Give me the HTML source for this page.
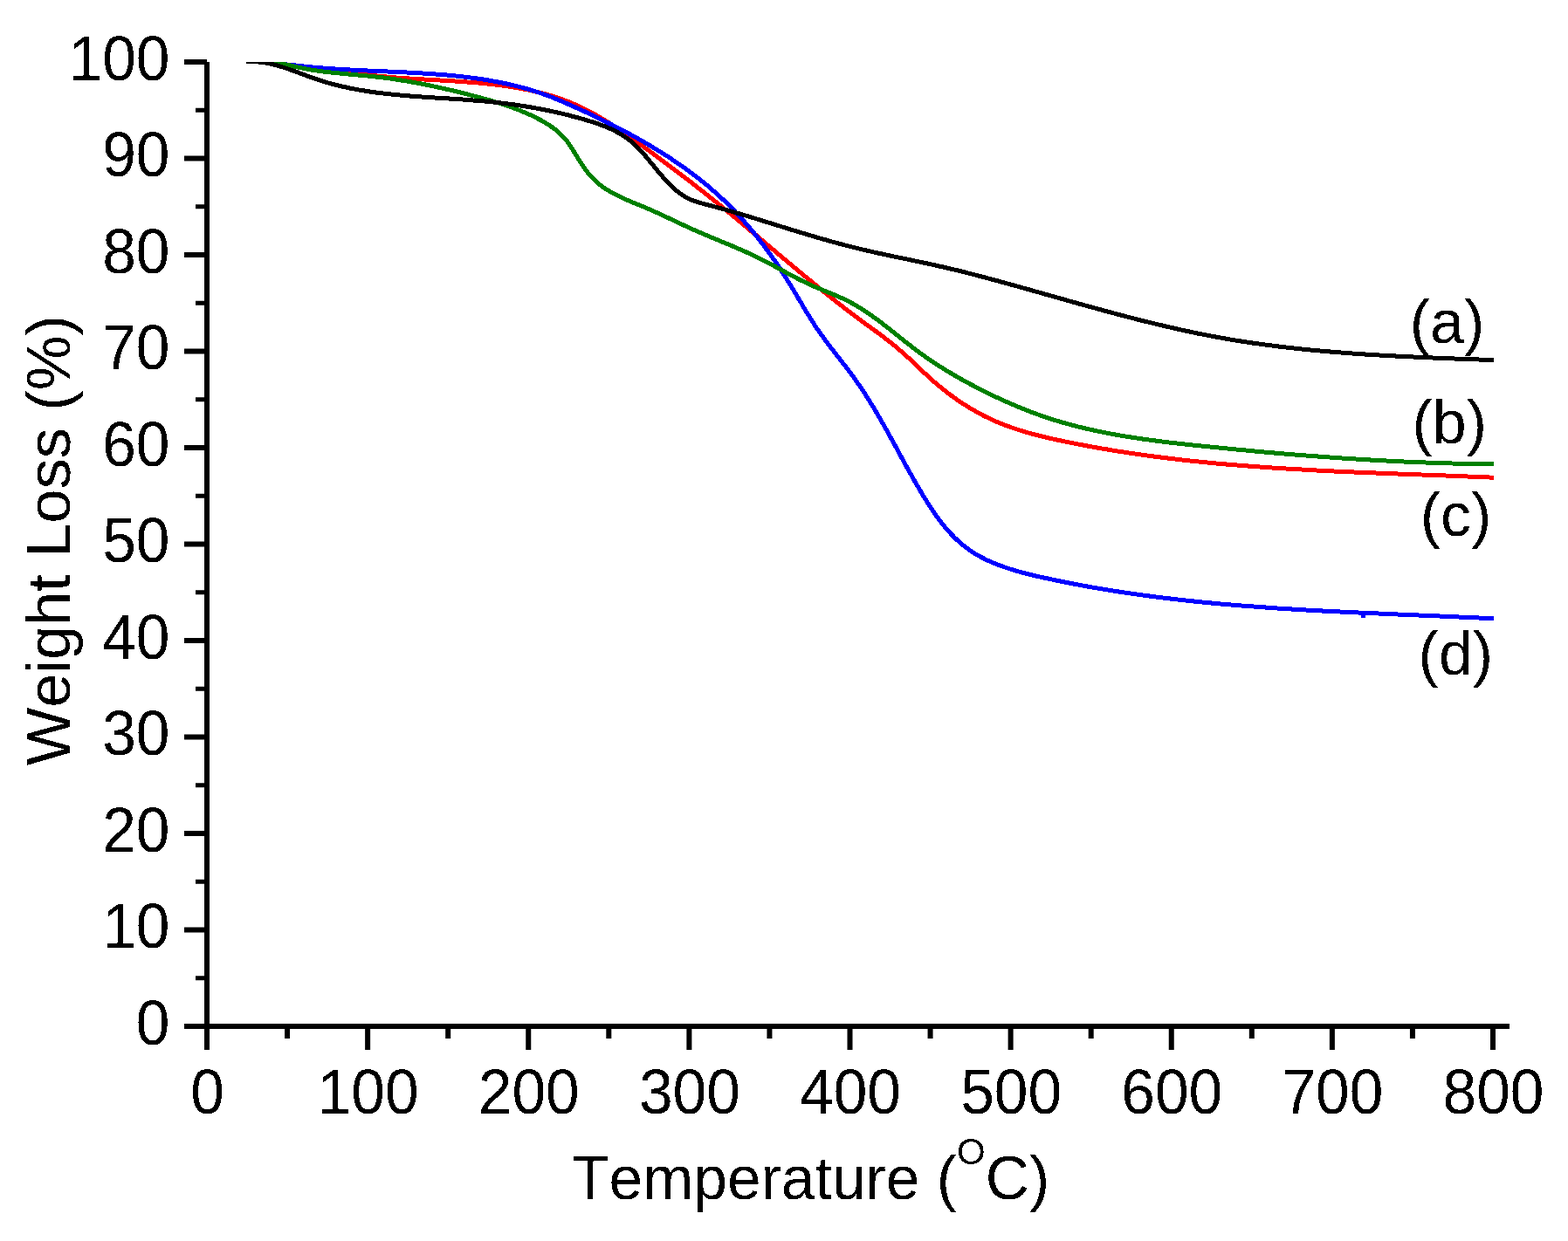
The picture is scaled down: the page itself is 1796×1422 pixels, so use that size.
<!DOCTYPE html>
<html><head><meta charset="utf-8"><title>TGA</title>
<style>html,body{margin:0;padding:0;background:#fff;}svg{display:block;}
text{font-family:"Liberation Sans",Arial,sans-serif;fill:#000;font-kerning:none;}</style></head>
<body><svg width="1796" height="1422" viewBox="0 0 1796 1422">
<rect width="1796" height="1422" fill="#fff"/>
<defs><clipPath id="pc"><rect x="237" y="71" width="1492" height="1105"/></clipPath>
<filter id="bin" x="0" y="0" width="1796" height="1422" filterUnits="userSpaceOnUse" color-interpolation-filters="sRGB"><feComponentTransfer><feFuncA type="discrete" tableValues="0 1"/></feComponentTransfer></filter></defs>

<g clip-path="url(#pc)" fill="none" stroke-width="5" stroke-linejoin="round" stroke-linecap="butt" shape-rendering="crispEdges">
<path stroke="#ff0000" d="M282.1,70.7 284.5,70.7 287.0,70.7 289.4,70.8 291.9,70.8 294.4,70.9 296.8,71.0 299.3,71.2 301.8,71.3 304.3,71.5 306.8,71.7 309.3,71.9 311.8,72.1 314.3,72.3 316.8,72.6 319.3,72.9 321.8,73.1 324.3,73.4 326.8,73.7 329.3,74.0 331.8,74.3 334.3,74.7 336.8,75.0 339.3,75.3 341.8,75.7 344.3,76.0 346.8,76.4 349.3,76.7 351.8,77.1 354.3,77.4 356.8,77.8 359.3,78.1 361.8,78.5 364.3,78.8 366.7,79.2 369.2,79.5 371.7,79.8 374.2,80.2 376.6,80.5 379.1,80.8 381.6,81.2 384.0,81.5 386.5,81.8 388.9,82.1 391.4,82.4 393.9,82.7 396.3,83.0 398.8,83.3 401.2,83.6 403.7,83.9 406.1,84.2 408.6,84.5 411.0,84.8 413.5,85.1 416.0,85.4 418.4,85.6 420.9,85.9 423.3,86.2 425.8,86.4 428.3,86.7 430.7,86.9 433.2,87.1 435.7,87.4 438.1,87.6 440.6,87.8 443.1,88.0 445.6,88.3 448.0,88.5 450.5,88.7 453.0,88.9 455.5,89.1 458.0,89.2 460.5,89.4 463.0,89.6 465.5,89.8 468.0,89.9 470.6,90.1 473.1,90.2 475.6,90.4 478.1,90.5 480.6,90.7 483.2,90.8 485.7,91.0 488.2,91.1 490.8,91.3 493.3,91.4 495.8,91.5 498.4,91.7 500.9,91.8 503.5,92.0 506.0,92.1 508.5,92.3 511.1,92.4 513.6,92.6 516.2,92.7 518.7,92.9 521.2,93.0 523.8,93.2 526.3,93.4 528.9,93.5 531.4,93.7 533.9,93.9 536.5,94.1 539.0,94.3 541.5,94.5 544.1,94.7 546.6,94.9 549.1,95.1 551.7,95.4 554.2,95.6 556.7,95.9 559.2,96.1 561.7,96.4 564.2,96.7 566.8,97.0 569.3,97.3 571.8,97.6 574.3,97.9 576.8,98.2 579.3,98.6 581.7,98.9 584.2,99.3 586.7,99.7 589.2,100.1 591.6,100.5 594.1,101.0 596.6,101.4 599.0,101.9 601.5,102.3 603.9,102.8 606.3,103.3 608.8,103.9 611.2,104.4 613.6,105.0 616.0,105.6 618.4,106.2 620.8,106.8 623.2,107.4 625.6,108.1 628.0,108.7 630.3,109.4 632.7,110.2 635.1,110.9 637.4,111.7 639.7,112.4 642.1,113.2 644.4,114.1 646.7,114.9 649.0,115.8 651.3,116.7 653.6,117.6 655.9,118.6 658.1,119.5 660.4,120.5 662.6,121.5 664.9,122.6 667.1,123.7 669.3,124.8 671.5,125.9 673.7,127.0 675.9,128.2 678.1,129.3 680.3,130.5 682.5,131.8 684.6,133.0 686.8,134.3 688.9,135.5 691.1,136.8 693.2,138.1 695.4,139.5 697.5,140.8 699.6,142.1 701.7,143.5 703.8,144.9 705.9,146.3 708.0,147.7 710.1,149.1 712.2,150.5 714.2,151.9 716.3,153.4 718.4,154.8 720.5,156.2 722.5,157.7 724.6,159.2 726.6,160.6 728.7,162.1 730.7,163.6 732.8,165.1 734.8,166.5 736.9,168.0 738.9,169.5 740.9,171.0 743.0,172.5 745.0,174.0 747.0,175.4 749.0,176.9 751.1,178.4 753.1,179.9 755.1,181.4 757.1,182.9 759.1,184.4 761.2,185.9 763.2,187.4 765.2,188.9 767.2,190.4 769.2,191.9 771.2,193.4 773.2,194.9 775.2,196.4 777.2,197.9 779.2,199.4 781.1,200.9 783.1,202.4 785.1,204.0 787.1,205.5 789.1,207.0 791.1,208.5 793.0,210.1 795.0,211.6 797.0,213.1 798.9,214.7 800.9,216.2 802.9,217.7 804.8,219.3 806.8,220.8 808.7,222.4 810.7,223.9 812.6,225.5 814.6,227.0 816.5,228.6 818.5,230.2 820.4,231.7 822.4,233.3 824.3,234.9 826.2,236.5 828.2,238.0 830.1,239.6 832.0,241.2 834.0,242.8 835.9,244.4 837.8,246.0 839.8,247.5 841.7,249.1 843.6,250.7 845.5,252.3 847.4,253.9 849.4,255.5 851.3,257.1 853.2,258.7 855.1,260.3 857.0,261.9 858.9,263.5 860.8,265.2 862.8,266.8 864.7,268.4 866.6,270.0 868.5,271.6 870.4,273.2 872.3,274.8 874.2,276.4 876.1,278.0 878.0,279.7 880.0,281.3 881.9,282.9 883.8,284.5 885.7,286.1 887.6,287.7 889.5,289.3 891.4,291.0 893.3,292.6 895.2,294.2 897.1,295.8 899.1,297.4 901.0,299.0 902.9,300.6 904.8,302.2 906.7,303.8 908.6,305.4 910.6,307.0 912.5,308.6 914.4,310.2 916.3,311.9 918.2,313.5 920.2,315.0 922.1,316.6 924.0,318.2 925.9,319.8 927.9,321.4 929.8,323.0 931.7,324.6 933.7,326.2 935.6,327.8 937.5,329.3 939.5,330.9 941.4,332.5 943.4,334.1 945.3,335.6 947.2,337.2 949.2,338.8 951.1,340.3 953.1,341.9 955.1,343.5 957.0,345.0 959.0,346.5 960.9,348.1 962.9,349.6 964.9,351.2 966.9,352.7 968.8,354.2 970.8,355.8 972.8,357.3 974.8,358.8 976.8,360.3 978.8,361.8 980.8,363.3 982.8,364.8 984.8,366.3 986.8,367.8 988.9,369.2 990.9,370.7 992.9,372.2 994.9,373.6 997.0,375.1 999.0,376.6 1001.0,378.1 1003.0,379.5 1005.0,381.0 1007.1,382.5 1009.1,384.0 1011.1,385.5 1013.0,387.0 1015.0,388.6 1017.0,390.1 1018.9,391.6 1020.9,393.2 1022.8,394.8 1024.8,396.3 1026.7,397.9 1028.6,399.5 1030.5,401.1 1032.4,402.8 1034.3,404.4 1036.1,406.1 1038.0,407.7 1039.8,409.4 1041.7,411.1 1043.5,412.8 1045.3,414.5 1047.1,416.3 1048.9,418.0 1050.7,419.7 1052.6,421.4 1054.4,423.2 1056.2,424.9 1058.0,426.6 1059.8,428.3 1061.7,430.0 1063.5,431.7 1065.4,433.4 1067.2,435.1 1069.1,436.8 1071.0,438.4 1072.9,440.0 1074.8,441.7 1076.8,443.3 1078.7,444.9 1080.7,446.4 1082.7,448.0 1084.6,449.5 1086.6,451.0 1088.6,452.5 1090.7,454.0 1092.7,455.5 1094.7,456.9 1096.8,458.4 1098.9,459.8 1101.0,461.2 1103.0,462.6 1105.2,463.9 1107.3,465.3 1109.4,466.6 1111.5,467.9 1113.7,469.2 1115.9,470.4 1118.0,471.6 1120.2,472.9 1122.4,474.0 1124.6,475.2 1126.8,476.4 1129.1,477.5 1131.3,478.6 1133.5,479.7 1135.8,480.7 1138.1,481.8 1140.4,482.8 1142.7,483.8 1145.0,484.7 1147.3,485.6 1149.6,486.6 1151.9,487.5 1154.2,488.3 1156.6,489.2 1158.9,490.0 1161.3,490.8 1163.7,491.6 1166.1,492.4 1168.4,493.1 1170.8,493.9 1173.2,494.6 1175.6,495.3 1178.0,496.0 1180.4,496.7 1182.9,497.3 1185.3,498.0 1187.7,498.6 1190.2,499.2 1192.6,499.8 1195.0,500.4 1197.5,501.0 1199.9,501.6 1202.4,502.2 1204.8,502.7 1207.3,503.3 1209.7,503.8 1212.2,504.3 1214.7,504.9 1217.1,505.4 1219.6,505.9 1222.0,506.4 1224.5,506.9 1227.0,507.4 1229.4,507.9 1231.9,508.4 1234.4,508.9 1236.8,509.4 1239.3,509.8 1241.8,510.3 1244.2,510.8 1246.7,511.2 1249.2,511.7 1251.6,512.1 1254.1,512.6 1256.6,513.0 1259.1,513.4 1261.5,513.9 1264.0,514.3 1266.5,514.7 1269.0,515.1 1271.4,515.6 1273.9,516.0 1276.4,516.4 1278.9,516.8 1281.3,517.2 1283.8,517.6 1286.3,517.9 1288.8,518.3 1291.2,518.7 1293.7,519.1 1296.2,519.4 1298.7,519.8 1301.1,520.2 1303.6,520.5 1306.1,520.9 1308.6,521.2 1311.1,521.6 1313.6,521.9 1316.0,522.3 1318.5,522.6 1321.0,522.9 1323.5,523.3 1326.0,523.6 1328.5,523.9 1330.9,524.2 1333.4,524.5 1335.9,524.8 1338.4,525.1 1340.9,525.4 1343.4,525.7 1345.9,526.0 1348.3,526.3 1350.8,526.6 1353.3,526.9 1355.8,527.2 1358.3,527.4 1360.8,527.7 1363.3,528.0 1365.8,528.3 1368.2,528.5 1370.7,528.8 1373.2,529.0 1375.7,529.3 1378.2,529.5 1380.7,529.8 1383.2,530.0 1385.7,530.3 1388.2,530.5 1390.7,530.7 1393.2,531.0 1395.7,531.2 1398.2,531.4 1400.6,531.6 1403.1,531.9 1405.6,532.1 1408.1,532.3 1410.6,532.5 1413.1,532.7 1415.6,532.9 1418.1,533.1 1420.6,533.3 1423.1,533.5 1425.6,533.7 1428.1,533.9 1430.6,534.1 1433.1,534.3 1435.6,534.5 1438.1,534.7 1440.6,534.9 1443.1,535.0 1445.6,535.2 1448.1,535.4 1450.6,535.6 1453.1,535.7 1455.6,535.9 1458.1,536.1 1460.6,536.2 1463.1,536.4 1465.6,536.5 1468.1,536.7 1470.6,536.9 1473.1,537.0 1475.6,537.2 1478.1,537.3 1480.6,537.5 1483.1,537.6 1485.6,537.8 1488.1,537.9 1490.6,538.0 1493.1,538.2 1495.6,538.3 1498.1,538.5 1500.6,538.6 1503.1,538.7 1505.6,538.9 1508.1,539.0 1510.6,539.1 1513.1,539.2 1515.6,539.4 1518.1,539.5 1520.6,539.6 1523.1,539.7 1525.6,539.8 1528.2,540.0 1530.7,540.1 1533.2,540.2 1535.7,540.3 1538.2,540.4 1540.7,540.5 1543.2,540.6 1545.7,540.8 1548.2,540.9 1550.7,541.0 1553.2,541.1 1555.7,541.2 1558.2,541.3 1560.7,541.4 1563.2,541.5 1565.7,541.6 1568.2,541.7 1570.7,541.8 1573.2,541.9 1575.7,542.0 1578.3,542.1 1580.8,542.2 1583.3,542.3 1585.8,542.4 1588.3,542.5 1590.8,542.6 1593.3,542.7 1595.8,542.8 1598.3,542.9 1600.8,543.0 1603.3,543.1 1605.8,543.2 1608.3,543.3 1610.8,543.3 1613.3,543.4 1615.8,543.5 1618.3,543.6 1620.8,543.7 1623.4,543.8 1625.9,543.9 1628.4,544.0 1630.9,544.1 1633.4,544.2 1635.9,544.3 1638.4,544.4 1640.9,544.5 1643.4,544.6 1645.9,544.6 1648.4,544.7 1650.9,544.8 1653.4,544.9 1655.9,545.0 1658.4,545.1 1660.9,545.2 1663.4,545.3 1665.9,545.4 1668.4,545.5 1670.9,545.6 1673.4,545.7 1675.9,545.8 1678.4,545.9 1681.0,546.0 1683.5,546.1 1686.0,546.2 1688.5,546.3 1691.0,546.4 1693.5,546.5 1696.0,546.6 1698.5,546.7 1701.0,546.8 1703.5,546.9 1706.0,547.0 1708.5,547.1 1711.0,547.2"/>
<path stroke="#0000ff" d="M282.0,70.4 284.5,70.5 287.0,70.5 289.5,70.7 292.0,70.8 294.5,70.9 296.9,71.1 299.4,71.3 301.9,71.4 304.4,71.6 306.9,71.8 309.4,72.1 311.8,72.3 314.3,72.5 316.8,72.8 319.3,73.0 321.8,73.3 324.2,73.5 326.7,73.8 329.2,74.1 331.7,74.3 334.2,74.6 336.7,74.8 339.1,75.1 341.6,75.4 344.1,75.6 346.6,75.9 349.1,76.1 351.6,76.4 354.0,76.6 356.5,76.9 359.0,77.1 361.5,77.3 364.0,77.5 366.5,77.7 368.9,77.9 371.4,78.1 373.9,78.3 376.4,78.5 378.9,78.6 381.4,78.8 383.9,79.0 386.3,79.1 388.8,79.3 391.3,79.4 393.8,79.6 396.3,79.7 398.8,79.9 401.3,80.0 403.8,80.1 406.3,80.3 408.8,80.4 411.3,80.5 413.7,80.6 416.2,80.8 418.7,80.9 421.2,81.0 423.7,81.1 426.2,81.2 428.7,81.3 431.2,81.4 433.7,81.6 436.2,81.7 438.8,81.8 441.3,81.9 443.8,82.0 446.3,82.1 448.8,82.2 451.3,82.3 453.8,82.4 456.3,82.6 458.8,82.7 461.3,82.8 463.9,82.9 466.4,83.0 468.9,83.2 471.4,83.3 473.9,83.4 476.4,83.6 478.9,83.7 481.5,83.9 484.0,84.0 486.5,84.2 489.0,84.3 491.5,84.5 494.0,84.7 496.6,84.8 499.1,85.0 501.6,85.2 504.1,85.4 506.6,85.6 509.1,85.8 511.6,86.0 514.1,86.3 516.6,86.5 519.1,86.7 521.6,87.0 524.1,87.2 526.6,87.5 529.1,87.8 531.6,88.1 534.1,88.4 536.6,88.7 539.1,89.0 541.6,89.3 544.1,89.6 546.6,90.0 549.0,90.4 551.5,90.7 554.0,91.1 556.5,91.5 558.9,91.9 561.4,92.3 563.9,92.8 566.3,93.2 568.8,93.7 571.2,94.1 573.7,94.6 576.1,95.1 578.6,95.6 581.0,96.2 583.4,96.7 585.9,97.3 588.3,97.8 590.7,98.4 593.1,99.0 595.5,99.6 598.0,100.3 600.4,100.9 602.8,101.6 605.1,102.3 607.5,103.0 609.9,103.7 612.3,104.5 614.6,105.2 617.0,106.0 619.4,106.8 621.7,107.6 624.0,108.4 626.4,109.3 628.7,110.1 631.0,111.0 633.3,111.9 635.6,112.9 637.9,113.8 640.2,114.7 642.5,115.7 644.8,116.7 647.1,117.7 649.3,118.7 651.6,119.7 653.9,120.7 656.2,121.7 658.4,122.7 660.7,123.8 663.0,124.8 665.2,125.8 667.5,126.9 669.8,127.9 672.1,129.0 674.3,130.1 676.6,131.1 678.9,132.2 681.1,133.3 683.4,134.4 685.6,135.5 687.9,136.6 690.2,137.7 692.4,138.8 694.7,139.9 696.9,141.0 699.2,142.1 701.4,143.3 703.7,144.4 705.9,145.6 708.2,146.7 710.4,147.9 712.6,149.1 714.9,150.2 717.1,151.4 719.3,152.6 721.5,153.8 723.7,155.0 725.9,156.2 728.2,157.4 730.4,158.7 732.6,159.9 734.7,161.1 736.9,162.4 739.1,163.6 741.3,164.9 743.5,166.2 745.6,167.5 747.8,168.8 749.9,170.1 752.1,171.4 754.2,172.7 756.4,174.0 758.5,175.4 760.6,176.7 762.7,178.0 764.9,179.4 767.0,180.8 769.1,182.2 771.1,183.6 773.2,185.0 775.3,186.4 777.4,187.8 779.4,189.2 781.5,190.7 783.5,192.1 785.5,193.6 787.6,195.0 789.6,196.5 791.6,198.0 793.6,199.5 795.6,201.0 797.6,202.5 799.5,204.1 801.5,205.6 803.5,207.2 805.4,208.7 807.3,210.3 809.3,211.9 811.2,213.5 813.1,215.1 815.0,216.7 816.8,218.4 818.7,220.0 820.6,221.7 822.4,223.3 824.3,225.0 826.1,226.7 827.9,228.4 829.7,230.1 831.5,231.9 833.3,233.6 835.0,235.4 836.8,237.1 838.5,238.9 840.3,240.7 842.0,242.5 843.7,244.3 845.4,246.1 847.1,247.9 848.8,249.8 850.4,251.6 852.1,253.5 853.8,255.4 855.4,257.2 857.0,259.1 858.6,261.0 860.2,262.9 861.8,264.9 863.4,266.8 865.0,268.7 866.5,270.7 868.1,272.6 869.6,274.6 871.2,276.6 872.7,278.6 874.2,280.6 875.7,282.5 877.2,284.6 878.7,286.6 880.2,288.6 881.6,290.6 883.1,292.7 884.5,294.7 885.9,296.8 887.4,298.8 888.8,300.9 890.2,302.9 891.6,305.0 893.0,307.1 894.4,309.2 895.7,311.3 897.1,313.4 898.4,315.5 899.8,317.6 901.1,319.7 902.4,321.9 903.7,324.0 905.0,326.1 906.3,328.3 907.6,330.4 908.9,332.6 910.2,334.7 911.5,336.9 912.8,339.0 914.0,341.2 915.3,343.3 916.6,345.5 917.9,347.6 919.1,349.8 920.4,351.9 921.7,354.1 923.0,356.2 924.3,358.4 925.6,360.5 926.9,362.6 928.2,364.8 929.6,366.9 930.9,369.0 932.3,371.1 933.6,373.2 935.0,375.3 936.4,377.3 937.8,379.4 939.3,381.5 940.7,383.5 942.2,385.5 943.6,387.6 945.1,389.6 946.6,391.6 948.1,393.6 949.6,395.6 951.2,397.6 952.7,399.6 954.2,401.6 955.8,403.6 957.3,405.6 958.8,407.5 960.4,409.5 961.9,411.5 963.5,413.5 965.0,415.5 966.5,417.5 968.1,419.4 969.6,421.4 971.1,423.4 972.6,425.4 974.1,427.4 975.6,429.4 977.1,431.4 978.6,433.5 980.0,435.5 981.5,437.5 982.9,439.6 984.3,441.6 985.7,443.7 987.1,445.7 988.5,447.8 989.8,449.9 991.2,452.0 992.5,454.1 993.9,456.2 995.2,458.3 996.5,460.4 997.8,462.5 999.1,464.6 1000.4,466.8 1001.7,468.9 1002.9,471.0 1004.2,473.2 1005.5,475.3 1006.7,477.5 1008.0,479.6 1009.2,481.8 1010.4,483.9 1011.7,486.1 1012.9,488.3 1014.1,490.4 1015.3,492.6 1016.6,494.8 1017.8,497.0 1019.0,499.2 1020.2,501.4 1021.4,503.6 1022.6,505.7 1023.8,507.9 1025.0,510.1 1026.2,512.3 1027.4,514.5 1028.6,516.7 1029.8,518.9 1031.0,521.2 1032.2,523.4 1033.4,525.6 1034.6,527.8 1035.8,530.0 1037.0,532.2 1038.2,534.4 1039.4,536.6 1040.7,538.8 1041.9,541.0 1043.1,543.2 1044.4,545.4 1045.6,547.6 1046.8,549.8 1048.1,552.0 1049.4,554.2 1050.6,556.4 1051.9,558.6 1053.2,560.8 1054.5,563.0 1055.8,565.2 1057.1,567.4 1058.4,569.6 1059.7,571.7 1061.1,573.9 1062.4,576.1 1063.8,578.2 1065.2,580.3 1066.6,582.5 1068.0,584.6 1069.4,586.6 1070.8,588.7 1072.3,590.8 1073.8,592.8 1075.3,594.8 1076.8,596.8 1078.3,598.8 1079.8,600.8 1081.4,602.7 1083.0,604.6 1084.6,606.5 1086.2,608.3 1087.8,610.2 1089.5,612.0 1091.2,613.7 1092.9,615.5 1094.7,617.2 1096.4,618.9 1098.2,620.5 1100.0,622.1 1101.9,623.7 1103.8,625.2 1105.7,626.7 1107.6,628.2 1109.5,629.6 1111.5,631.0 1113.5,632.3 1115.6,633.6 1117.6,634.9 1119.7,636.1 1121.9,637.3 1124.0,638.5 1126.2,639.6 1128.3,640.7 1130.5,641.8 1132.8,642.8 1135.0,643.8 1137.3,644.8 1139.5,645.7 1141.8,646.7 1144.2,647.6 1146.5,648.4 1148.8,649.3 1151.2,650.1 1153.6,650.9 1156.0,651.7 1158.4,652.4 1160.8,653.2 1163.2,653.9 1165.6,654.6 1168.1,655.3 1170.5,656.0 1173.0,656.6 1175.4,657.3 1177.9,657.9 1180.4,658.5 1182.9,659.1 1185.3,659.7 1187.8,660.3 1190.3,660.8 1192.8,661.4 1195.3,661.9 1197.8,662.5 1200.3,663.0 1202.8,663.6 1205.3,664.1 1207.8,664.6 1210.2,665.1 1212.7,665.7 1215.2,666.2 1217.7,666.7 1220.2,667.2 1222.7,667.7 1225.1,668.1 1227.6,668.6 1230.1,669.1 1232.6,669.6 1235.0,670.0 1237.5,670.5 1240.0,671.0 1242.5,671.4 1244.9,671.9 1247.4,672.3 1249.9,672.8 1252.3,673.2 1254.8,673.6 1257.3,674.1 1259.8,674.5 1262.2,674.9 1264.7,675.3 1267.2,675.7 1269.6,676.1 1272.1,676.5 1274.6,676.9 1277.0,677.3 1279.5,677.7 1282.0,678.1 1284.4,678.5 1286.9,678.8 1289.3,679.2 1291.8,679.6 1294.3,679.9 1296.7,680.3 1299.2,680.6 1301.7,681.0 1304.1,681.3 1306.6,681.7 1309.1,682.0 1311.5,682.4 1314.0,682.7 1316.5,683.0 1318.9,683.3 1321.4,683.7 1323.9,684.0 1326.3,684.3 1328.8,684.6 1331.3,684.9 1333.7,685.2 1336.2,685.5 1338.7,685.8 1341.2,686.1 1343.6,686.4 1346.1,686.7 1348.6,687.0 1351.0,687.2 1353.5,687.5 1356.0,687.8 1358.5,688.1 1360.9,688.3 1363.4,688.6 1365.9,688.8 1368.4,689.1 1370.9,689.4 1373.3,689.6 1375.8,689.9 1378.3,690.1 1380.8,690.4 1383.3,690.6 1385.8,690.8 1388.2,691.1 1390.7,691.3 1393.2,691.5 1395.7,691.8 1398.2,692.0 1400.7,692.2 1403.2,692.4 1405.7,692.6 1408.2,692.8 1410.6,693.1 1413.1,693.3 1415.6,693.5 1418.1,693.7 1420.6,693.9 1423.1,694.1 1425.6,694.3 1428.1,694.5 1430.6,694.7 1433.1,694.9 1435.6,695.0 1438.1,695.2 1440.6,695.4 1443.1,695.6 1445.6,695.8 1448.1,695.9 1450.6,696.1 1453.1,696.3 1455.6,696.5 1458.1,696.6 1460.6,696.8 1463.1,697.0 1465.6,697.1 1468.1,697.3 1470.6,697.5 1473.1,697.6 1475.6,697.8 1478.1,697.9 1480.6,698.1 1483.1,698.2 1485.7,698.4 1488.2,698.5 1490.7,698.7 1493.2,698.8 1495.7,699.0 1498.2,699.1 1500.7,699.2 1503.2,699.4 1505.7,699.5 1508.2,699.7 1510.7,699.8 1513.2,699.9 1515.7,700.1 1518.3,700.2 1520.8,700.3 1523.3,700.4 1525.8,700.6 1528.3,700.7 1530.8,700.8 1533.3,700.9 1535.8,701.1 1538.3,701.2 1540.8,701.3 1543.3,701.4 1545.9,701.6 1548.4,701.7 1550.9,701.8 1553.4,701.9 1555.9,702.0 1558.4,702.1 1560.9,702.3 1563.4,702.4 1565.9,702.5 1568.4,702.6 1570.9,702.7 1573.4,702.8 1576.0,702.9 1578.5,703.0 1581.0,703.1 1583.5,703.2 1586.0,703.4 1588.5,703.5 1591.0,703.6 1593.5,703.7 1596.0,703.8 1598.5,703.9 1601.0,704.0 1603.5,704.1 1606.0,704.2 1608.5,704.3 1611.0,704.4 1613.6,704.5 1616.1,704.6 1618.6,704.7 1621.1,704.8 1623.6,704.9 1626.1,705.1 1628.6,705.2 1631.1,705.3 1633.6,705.4 1636.1,705.5 1638.6,705.6 1641.1,705.7 1643.6,705.8 1646.1,705.9 1648.6,706.0 1651.1,706.1 1653.6,706.2 1656.1,706.3 1658.6,706.4 1661.1,706.5 1663.5,706.6 1666.0,706.8 1668.5,706.9 1671.0,707.0 1673.5,707.1 1676.0,707.2 1678.5,707.3 1681.0,707.4 1683.5,707.5 1686.0,707.6 1688.5,707.8 1691.0,707.9 1693.4,708.0 1695.9,708.1 1698.4,708.2 1700.9,708.3 1703.4,708.5 1705.9,708.6 1708.3,708.7 1710.8,708.8"/>
<rect x="1559" y="703.5" width="4.5" height="4.2" fill="#0000ff" stroke="none"/>
<path stroke="#008000" d="M282.0,71.0 284.6,70.5 287.1,70.1 289.7,69.9 292.2,69.7 294.8,69.6 297.3,69.5 299.8,69.6 302.3,69.7 304.8,69.9 307.3,70.1 309.7,70.4 312.2,70.8 314.6,71.2 317.1,71.6 319.5,72.1 322.0,72.6 324.4,73.1 326.8,73.7 329.3,74.3 331.7,74.8 334.2,75.4 336.6,76.0 339.0,76.5 341.5,77.1 343.9,77.6 346.4,78.1 348.8,78.6 351.3,79.1 353.8,79.5 356.2,80.0 358.7,80.4 361.2,80.8 363.7,81.1 366.2,81.5 368.6,81.8 371.1,82.1 373.6,82.4 376.1,82.7 378.6,83.0 381.1,83.3 383.6,83.5 386.1,83.8 388.6,84.0 391.2,84.3 393.7,84.5 396.2,84.7 398.7,85.0 401.2,85.2 403.7,85.4 406.2,85.6 408.7,85.9 411.2,86.1 413.7,86.3 416.2,86.5 418.7,86.8 421.2,87.0 423.7,87.3 426.2,87.5 428.7,87.8 431.2,88.1 433.7,88.3 436.2,88.6 438.7,88.9 441.2,89.3 443.6,89.6 446.1,89.9 448.6,90.3 451.0,90.6 453.5,91.0 456.0,91.4 458.4,91.8 460.9,92.2 463.4,92.6 465.8,93.0 468.3,93.4 470.7,93.8 473.2,94.3 475.6,94.7 478.1,95.2 480.5,95.6 483.0,96.1 485.4,96.6 487.8,97.1 490.3,97.6 492.7,98.1 495.2,98.6 497.6,99.1 500.0,99.6 502.5,100.2 504.9,100.7 507.4,101.3 509.8,101.8 512.2,102.4 514.7,102.9 517.1,103.5 519.6,104.1 522.0,104.7 524.4,105.3 526.9,105.9 529.3,106.5 531.8,107.1 534.2,107.7 536.6,108.4 539.1,109.0 541.5,109.6 544.0,110.3 546.4,110.9 548.9,111.6 551.3,112.2 553.7,112.9 556.2,113.6 558.6,114.3 561.1,114.9 563.5,115.7 565.9,116.4 568.3,117.1 570.7,117.9 573.2,118.6 575.6,119.4 578.0,120.2 580.3,121.0 582.7,121.8 585.1,122.7 587.5,123.5 589.8,124.4 592.2,125.3 594.5,126.2 596.8,127.1 599.1,128.1 601.4,129.1 603.7,130.1 606.0,131.1 608.3,132.1 610.5,133.2 612.8,134.3 615.0,135.4 617.2,136.6 619.4,137.7 621.5,138.9 623.7,140.2 625.8,141.5 627.9,142.8 630.0,144.1 632.0,145.5 634.0,146.9 636.0,148.4 637.9,149.9 639.7,151.5 641.6,153.2 643.3,154.9 645.0,156.7 646.7,158.5 648.3,160.4 649.8,162.4 651.3,164.4 652.7,166.5 654.1,168.6 655.5,170.7 656.8,172.9 658.2,175.1 659.5,177.2 660.9,179.4 662.2,181.6 663.5,183.8 664.9,186.0 666.3,188.1 667.7,190.2 669.1,192.3 670.6,194.3 672.1,196.3 673.7,198.3 675.2,200.2 676.9,202.0 678.5,203.9 680.3,205.6 682.0,207.4 683.8,209.0 685.7,210.6 687.6,212.1 689.6,213.6 691.6,215.0 693.7,216.4 695.8,217.7 697.9,219.0 700.1,220.2 702.3,221.4 704.5,222.6 706.7,223.8 709.0,224.9 711.2,225.9 713.5,227.0 715.8,228.1 718.1,229.1 720.5,230.1 722.8,231.1 725.1,232.1 727.5,233.0 729.8,234.0 732.2,235.0 734.5,236.0 736.9,236.9 739.2,237.9 741.5,238.9 743.8,239.9 746.1,240.9 748.4,241.9 750.7,242.9 753.0,244.0 755.3,245.0 757.6,246.1 759.8,247.1 762.1,248.2 764.4,249.2 766.6,250.3 768.9,251.4 771.1,252.4 773.4,253.5 775.6,254.6 777.9,255.6 780.1,256.7 782.4,257.7 784.6,258.8 786.9,259.8 789.2,260.9 791.4,261.9 793.7,262.9 796.0,263.9 798.3,264.9 800.6,265.9 802.9,266.9 805.2,267.9 807.5,268.9 809.8,269.8 812.1,270.8 814.4,271.8 816.8,272.7 819.1,273.7 821.4,274.7 823.7,275.6 826.0,276.6 828.3,277.6 830.7,278.5 833.0,279.5 835.3,280.5 837.6,281.4 839.9,282.4 842.2,283.4 844.5,284.4 846.8,285.4 849.1,286.4 851.4,287.4 853.7,288.4 856.0,289.5 858.3,290.5 860.5,291.6 862.8,292.6 865.0,293.7 867.3,294.8 869.5,295.9 871.8,297.0 874.0,298.1 876.2,299.2 878.4,300.4 880.6,301.6 882.8,302.7 885.0,303.9 887.2,305.1 889.4,306.3 891.6,307.5 893.8,308.7 896.0,309.9 898.2,311.1 900.4,312.3 902.6,313.4 904.8,314.6 907.0,315.8 909.2,317.0 911.4,318.1 913.6,319.3 915.8,320.4 918.1,321.5 920.3,322.6 922.6,323.7 924.8,324.8 927.1,325.8 929.4,326.9 931.7,327.9 934.1,328.9 936.4,329.9 938.7,330.8 941.0,331.8 943.4,332.8 945.7,333.7 948.1,334.7 950.4,335.6 952.7,336.6 955.1,337.6 957.4,338.6 959.7,339.6 962.0,340.6 964.3,341.6 966.6,342.7 968.8,343.8 971.1,344.9 973.3,346.1 975.5,347.2 977.7,348.4 979.8,349.7 982.0,350.9 984.1,352.2 986.2,353.5 988.3,354.9 990.4,356.2 992.5,357.6 994.6,359.0 996.6,360.4 998.7,361.8 1000.7,363.3 1002.7,364.8 1004.7,366.2 1006.7,367.7 1008.7,369.2 1010.7,370.8 1012.7,372.3 1014.7,373.8 1016.7,375.4 1018.6,376.9 1020.6,378.5 1022.5,380.0 1024.5,381.6 1026.5,383.2 1028.4,384.7 1030.4,386.3 1032.3,387.9 1034.3,389.4 1036.3,391.0 1038.2,392.5 1040.2,394.1 1042.2,395.6 1044.2,397.2 1046.2,398.7 1048.1,400.2 1050.2,401.7 1052.2,403.2 1054.2,404.7 1056.2,406.1 1058.2,407.6 1060.3,409.0 1062.3,410.5 1064.4,411.9 1066.5,413.3 1068.5,414.7 1070.6,416.0 1072.7,417.4 1074.8,418.8 1076.9,420.1 1079.0,421.4 1081.1,422.8 1083.3,424.1 1085.4,425.4 1087.5,426.6 1089.7,427.9 1091.8,429.2 1094.0,430.5 1096.2,431.7 1098.3,432.9 1100.5,434.2 1102.7,435.4 1104.9,436.6 1107.1,437.8 1109.3,439.0 1111.5,440.2 1113.7,441.4 1115.9,442.5 1118.1,443.7 1120.4,444.9 1122.6,446.0 1124.8,447.1 1127.1,448.3 1129.3,449.4 1131.6,450.5 1133.8,451.6 1136.1,452.7 1138.4,453.8 1140.6,454.9 1142.9,455.9 1145.2,457.0 1147.5,458.0 1149.8,459.1 1152.0,460.1 1154.3,461.1 1156.6,462.1 1158.9,463.1 1161.3,464.1 1163.6,465.1 1165.9,466.1 1168.2,467.0 1170.5,468.0 1172.9,468.9 1175.2,469.8 1177.5,470.7 1179.9,471.6 1182.2,472.5 1184.6,473.4 1186.9,474.3 1189.3,475.1 1191.6,476.0 1194.0,476.8 1196.4,477.6 1198.7,478.4 1201.1,479.2 1203.5,480.0 1205.9,480.7 1208.3,481.5 1210.7,482.2 1213.0,482.9 1215.4,483.6 1217.8,484.3 1220.2,485.0 1222.7,485.7 1225.1,486.3 1227.5,487.0 1229.9,487.6 1232.3,488.2 1234.7,488.9 1237.2,489.5 1239.6,490.1 1242.0,490.6 1244.4,491.2 1246.9,491.8 1249.3,492.3 1251.8,492.9 1254.2,493.4 1256.6,493.9 1259.1,494.4 1261.5,494.9 1264.0,495.4 1266.4,495.9 1268.9,496.4 1271.4,496.9 1273.8,497.3 1276.3,497.8 1278.7,498.2 1281.2,498.7 1283.7,499.1 1286.1,499.5 1288.6,499.9 1291.1,500.3 1293.6,500.7 1296.0,501.1 1298.5,501.5 1301.0,501.9 1303.5,502.2 1306.0,502.6 1308.4,503.0 1310.9,503.3 1313.4,503.7 1315.9,504.0 1318.4,504.4 1320.9,504.7 1323.4,505.0 1325.9,505.3 1328.4,505.7 1330.8,506.0 1333.3,506.3 1335.8,506.6 1338.3,506.9 1340.8,507.2 1343.3,507.5 1345.8,507.8 1348.3,508.0 1350.8,508.3 1353.3,508.6 1355.8,508.9 1358.3,509.2 1360.8,509.4 1363.3,509.7 1365.8,510.0 1368.3,510.2 1370.8,510.5 1373.3,510.7 1375.8,511.0 1378.3,511.3 1380.8,511.5 1383.3,511.8 1385.8,512.0 1388.3,512.3 1390.8,512.5 1393.3,512.8 1395.8,513.0 1398.3,513.3 1400.8,513.5 1403.3,513.8 1405.8,514.0 1408.3,514.3 1410.8,514.5 1413.3,514.8 1415.8,515.0 1418.3,515.2 1420.8,515.5 1423.3,515.7 1425.8,515.9 1428.3,516.2 1430.8,516.4 1433.3,516.6 1435.8,516.9 1438.3,517.1 1440.8,517.3 1443.3,517.6 1445.8,517.8 1448.3,518.0 1450.8,518.2 1453.3,518.4 1455.8,518.7 1458.3,518.9 1460.7,519.1 1463.2,519.3 1465.7,519.5 1468.2,519.7 1470.7,520.0 1473.2,520.2 1475.7,520.4 1478.2,520.6 1480.7,520.8 1483.2,521.0 1485.7,521.2 1488.2,521.4 1490.7,521.6 1493.2,521.8 1495.7,522.0 1498.2,522.2 1500.7,522.4 1503.2,522.6 1505.7,522.7 1508.2,522.9 1510.7,523.1 1513.2,523.3 1515.7,523.5 1518.2,523.7 1520.7,523.9 1523.2,524.0 1525.7,524.2 1528.2,524.4 1530.7,524.6 1533.2,524.7 1535.7,524.9 1538.2,525.1 1540.6,525.2 1543.1,525.4 1545.6,525.6 1548.1,525.7 1550.6,525.9 1553.1,526.0 1555.6,526.2 1558.1,526.3 1560.6,526.5 1563.1,526.6 1565.6,526.8 1568.1,526.9 1570.6,527.1 1573.1,527.2 1575.6,527.4 1578.1,527.5 1580.6,527.6 1583.1,527.8 1585.6,527.9 1588.1,528.0 1590.6,528.2 1593.1,528.3 1595.6,528.4 1598.1,528.5 1600.7,528.7 1603.2,528.8 1605.7,528.9 1608.2,529.0 1610.7,529.1 1613.2,529.2 1615.7,529.3 1618.2,529.4 1620.7,529.6 1623.2,529.7 1625.7,529.8 1628.2,529.9 1630.7,529.9 1633.2,530.0 1635.7,530.1 1638.2,530.2 1640.7,530.3 1643.2,530.4 1645.7,530.5 1648.3,530.6 1650.8,530.6 1653.3,530.7 1655.8,530.8 1658.3,530.9 1660.8,530.9 1663.3,531.0 1665.8,531.1 1668.3,531.1 1670.8,531.2 1673.4,531.2 1675.9,531.3 1678.4,531.4 1680.9,531.4 1683.4,531.5 1685.9,531.5 1688.4,531.5 1690.9,531.6 1693.5,531.6 1696.0,531.7 1698.5,531.7 1701.0,531.7 1703.5,531.8 1706.0,531.8 1708.6,531.8 1711.1,531.8"/>
<path stroke="#000000" d="M282.0,70.8 284.6,70.6 287.1,70.6 289.6,70.6 292.1,70.7 294.6,70.9 297.1,71.1 299.5,71.4 302.0,71.7 304.4,72.1 306.9,72.6 309.3,73.1 311.7,73.6 314.1,74.2 316.5,74.8 318.9,75.5 321.3,76.2 323.7,76.9 326.1,77.7 328.5,78.5 330.9,79.3 333.2,80.1 335.6,81.0 338.0,81.8 340.3,82.7 342.7,83.6 345.1,84.5 347.4,85.3 349.8,86.2 352.2,87.1 354.5,88.0 356.9,88.8 359.3,89.7 361.7,90.5 364.1,91.3 366.4,92.1 368.8,92.8 371.2,93.5 373.6,94.3 376.0,95.0 378.4,95.6 380.8,96.3 383.2,96.9 385.7,97.5 388.1,98.1 390.5,98.7 392.9,99.3 395.4,99.8 397.8,100.4 400.2,100.9 402.7,101.4 405.1,101.8 407.6,102.3 410.0,102.8 412.5,103.2 414.9,103.6 417.4,104.0 419.8,104.4 422.3,104.8 424.8,105.2 427.2,105.5 429.7,105.9 432.2,106.2 434.6,106.5 437.1,106.8 439.6,107.1 442.1,107.4 444.5,107.7 447.0,107.9 449.5,108.2 452.0,108.5 454.5,108.7 457.0,108.9 459.5,109.2 462.0,109.4 464.5,109.6 467.0,109.8 469.5,110.0 472.0,110.2 474.5,110.4 477.0,110.6 479.5,110.8 482.0,110.9 484.5,111.1 487.0,111.3 489.5,111.4 492.0,111.6 494.5,111.8 497.0,111.9 499.5,112.1 502.0,112.3 504.5,112.4 507.0,112.6 509.5,112.7 512.0,112.9 514.5,113.0 517.0,113.2 519.5,113.4 522.0,113.5 524.6,113.7 527.1,113.9 529.6,114.0 532.1,114.2 534.6,114.4 537.1,114.6 539.6,114.8 542.1,115.0 544.6,115.2 547.1,115.4 549.6,115.6 552.1,115.8 554.6,116.0 557.1,116.2 559.6,116.5 562.1,116.7 564.6,117.0 567.1,117.3 569.5,117.5 572.0,117.8 574.5,118.1 577.0,118.4 579.5,118.7 582.0,119.0 584.4,119.3 586.9,119.7 589.4,120.0 591.9,120.4 594.4,120.7 596.8,121.1 599.3,121.5 601.8,121.9 604.2,122.3 606.7,122.7 609.2,123.1 611.6,123.6 614.1,124.0 616.5,124.4 619.0,124.9 621.5,125.4 623.9,125.9 626.4,126.4 628.8,126.9 631.3,127.4 633.7,127.9 636.1,128.5 638.6,129.0 641.0,129.6 643.5,130.1 645.9,130.7 648.3,131.3 650.8,131.9 653.2,132.6 655.6,133.2 658.0,133.8 660.5,134.5 662.9,135.2 665.3,135.8 667.7,136.5 670.1,137.2 672.6,138.0 675.0,138.7 677.4,139.4 679.8,140.2 682.1,141.0 684.5,141.8 686.9,142.7 689.2,143.5 691.6,144.4 693.9,145.3 696.2,146.3 698.5,147.3 700.7,148.3 703.0,149.4 705.2,150.5 707.4,151.7 709.5,152.9 711.6,154.1 713.7,155.4 715.8,156.8 717.8,158.2 719.8,159.7 721.7,161.2 723.6,162.8 725.5,164.4 727.3,166.1 729.1,167.8 730.9,169.6 732.7,171.4 734.4,173.3 736.1,175.1 737.8,177.1 739.5,179.0 741.1,180.9 742.8,182.9 744.4,184.9 746.0,186.9 747.7,188.9 749.3,190.9 750.9,192.9 752.5,194.9 754.2,196.9 755.8,198.9 757.5,200.8 759.2,202.8 760.8,204.7 762.5,206.6 764.3,208.4 766.0,210.2 767.8,212.0 769.6,213.8 771.4,215.4 773.3,217.1 775.1,218.7 777.1,220.2 779.0,221.7 781.0,223.1 783.1,224.4 785.1,225.6 787.2,226.8 789.4,227.9 791.6,228.9 793.9,229.8 796.2,230.6 798.5,231.4 800.9,232.1 803.2,232.8 805.6,233.4 808.0,234.1 810.4,234.7 812.9,235.3 815.3,236.0 817.7,236.6 820.1,237.3 822.5,237.9 824.9,238.6 827.3,239.3 829.7,239.9 832.1,240.6 834.5,241.3 836.9,242.0 839.3,242.7 841.7,243.4 844.1,244.1 846.5,244.8 848.9,245.5 851.3,246.2 853.7,246.9 856.1,247.7 858.5,248.4 860.9,249.1 863.3,249.8 865.7,250.6 868.1,251.3 870.5,252.0 872.9,252.8 875.3,253.5 877.7,254.3 880.1,255.0 882.5,255.7 884.9,256.5 887.3,257.2 889.6,258.0 892.0,258.7 894.4,259.5 896.8,260.2 899.2,260.9 901.6,261.7 904.0,262.4 906.4,263.2 908.8,263.9 911.2,264.6 913.6,265.4 916.0,266.1 918.4,266.8 920.8,267.6 923.2,268.3 925.6,269.0 928.0,269.7 930.4,270.4 932.8,271.1 935.2,271.9 937.6,272.6 940.0,273.3 942.4,274.0 944.8,274.6 947.2,275.3 949.7,276.0 952.1,276.7 954.5,277.4 956.9,278.0 959.3,278.7 961.7,279.3 964.2,280.0 966.6,280.6 969.0,281.3 971.4,281.9 973.8,282.5 976.3,283.1 978.7,283.7 981.1,284.3 983.6,284.9 986.0,285.5 988.4,286.1 990.9,286.7 993.3,287.2 995.8,287.8 998.2,288.3 1000.6,288.9 1003.1,289.4 1005.5,290.0 1008.0,290.5 1010.4,291.0 1012.9,291.6 1015.3,292.1 1017.8,292.6 1020.2,293.1 1022.7,293.7 1025.1,294.2 1027.6,294.7 1030.0,295.2 1032.5,295.7 1034.9,296.2 1037.4,296.7 1039.8,297.2 1042.3,297.8 1044.7,298.3 1047.2,298.8 1049.6,299.3 1052.1,299.8 1054.5,300.3 1057.0,300.9 1059.4,301.4 1061.9,301.9 1064.3,302.4 1066.7,303.0 1069.2,303.5 1071.6,304.1 1074.1,304.6 1076.5,305.2 1079.0,305.7 1081.4,306.3 1083.8,306.8 1086.3,307.4 1088.7,308.0 1091.1,308.6 1093.6,309.1 1096.0,309.7 1098.4,310.3 1100.8,310.9 1103.3,311.5 1105.7,312.1 1108.1,312.8 1110.6,313.4 1113.0,314.0 1115.4,314.6 1117.8,315.2 1120.2,315.9 1122.7,316.5 1125.1,317.1 1127.5,317.8 1129.9,318.4 1132.3,319.1 1134.8,319.7 1137.2,320.4 1139.6,321.0 1142.0,321.7 1144.4,322.3 1146.8,323.0 1149.2,323.7 1151.7,324.3 1154.1,325.0 1156.5,325.7 1158.9,326.3 1161.3,327.0 1163.7,327.7 1166.1,328.3 1168.5,329.0 1171.0,329.7 1173.4,330.4 1175.8,331.1 1178.2,331.7 1180.6,332.4 1183.0,333.1 1185.4,333.8 1187.8,334.5 1190.2,335.1 1192.7,335.8 1195.1,336.5 1197.5,337.2 1199.9,337.9 1202.3,338.6 1204.7,339.2 1207.1,339.9 1209.5,340.6 1212.0,341.3 1214.4,342.0 1216.8,342.6 1219.2,343.3 1221.6,344.0 1224.0,344.7 1226.4,345.4 1228.8,346.0 1231.3,346.7 1233.7,347.4 1236.1,348.1 1238.5,348.7 1240.9,349.4 1243.3,350.1 1245.7,350.8 1248.2,351.4 1250.6,352.1 1253.0,352.8 1255.4,353.4 1257.8,354.1 1260.2,354.7 1262.7,355.4 1265.1,356.1 1267.5,356.7 1269.9,357.4 1272.3,358.0 1274.8,358.7 1277.2,359.3 1279.6,360.0 1282.0,360.6 1284.4,361.2 1286.9,361.9 1289.3,362.5 1291.7,363.2 1294.1,363.8 1296.6,364.4 1299.0,365.0 1301.4,365.7 1303.8,366.3 1306.3,366.9 1308.7,367.5 1311.1,368.1 1313.6,368.7 1316.0,369.3 1318.4,369.9 1320.9,370.5 1323.3,371.1 1325.7,371.7 1328.2,372.3 1330.6,372.8 1333.0,373.4 1335.5,374.0 1337.9,374.6 1340.3,375.1 1342.8,375.7 1345.2,376.2 1347.7,376.8 1350.1,377.3 1352.5,377.9 1355.0,378.4 1357.4,379.0 1359.9,379.5 1362.3,380.0 1364.8,380.5 1367.2,381.0 1369.7,381.5 1372.1,382.1 1374.6,382.5 1377.0,383.0 1379.5,383.5 1381.9,384.0 1384.4,384.5 1386.8,385.0 1389.3,385.4 1391.8,385.9 1394.2,386.3 1396.7,386.8 1399.1,387.2 1401.6,387.7 1404.1,388.1 1406.5,388.5 1409.0,389.0 1411.5,389.4 1413.9,389.8 1416.4,390.2 1418.9,390.6 1421.4,391.0 1423.8,391.4 1426.3,391.7 1428.8,392.1 1431.2,392.5 1433.7,392.9 1436.2,393.2 1438.7,393.6 1441.2,393.9 1443.6,394.3 1446.1,394.6 1448.6,395.0 1451.1,395.3 1453.6,395.6 1456.1,395.9 1458.5,396.3 1461.0,396.6 1463.5,396.9 1466.0,397.2 1468.5,397.5 1471.0,397.8 1473.5,398.1 1476.0,398.3 1478.4,398.6 1480.9,398.9 1483.4,399.2 1485.9,399.5 1488.4,399.7 1490.9,400.0 1493.4,400.2 1495.9,400.5 1498.4,400.7 1500.9,401.0 1503.4,401.2 1505.9,401.5 1508.4,401.7 1510.9,401.9 1513.4,402.1 1515.9,402.4 1518.4,402.6 1520.9,402.8 1523.4,403.0 1525.9,403.2 1528.4,403.4 1530.9,403.6 1533.4,403.8 1535.9,404.0 1538.4,404.2 1540.9,404.4 1543.4,404.6 1545.9,404.8 1548.4,405.0 1550.9,405.1 1553.4,405.3 1555.9,405.5 1558.4,405.7 1560.9,405.8 1563.4,406.0 1565.9,406.2 1568.4,406.3 1570.9,406.5 1573.4,406.6 1575.9,406.8 1578.4,406.9 1580.9,407.1 1583.4,407.2 1586.0,407.4 1588.5,407.5 1591.0,407.6 1593.5,407.8 1596.0,407.9 1598.5,408.0 1601.0,408.2 1603.5,408.3 1606.0,408.4 1608.5,408.5 1611.0,408.7 1613.5,408.8 1616.0,408.9 1618.5,409.0 1621.0,409.1 1623.5,409.3 1626.0,409.4 1628.5,409.5 1631.0,409.6 1633.5,409.7 1636.0,409.8 1638.5,409.9 1641.0,410.0 1643.5,410.1 1646.0,410.2 1648.5,410.3 1651.0,410.4 1653.5,410.5 1656.0,410.6 1658.5,410.7 1661.0,410.8 1663.5,410.9 1666.0,411.0 1668.5,411.1 1671.0,411.2 1673.5,411.3 1676.0,411.4 1678.5,411.5 1681.0,411.6 1683.5,411.7 1686.0,411.8 1688.5,411.9 1691.0,411.9 1693.5,412.0 1695.9,412.1 1698.4,412.2 1700.9,412.3 1703.4,412.4 1705.9,412.5 1708.4,412.6 1710.9,412.7"/>
</g>
<path d="M237,71V1176M211,1176H1729" stroke="#000" stroke-width="6" fill="none"/>
<path d="M211,1065.50H237M211,955.00H237M211,844.50H237M211,734.00H237M211,623.50H237M211,513.00H237M211,402.50H237M211,292.00H237M211,181.50H237M211,71.00H237" stroke="#000" stroke-width="6" fill="none"/>
<path d="M224,1120.75H237M224,1010.25H237M224,899.75H237M224,789.25H237M224,678.75H237M224,568.25H237M224,457.75H237M224,347.25H237M224,236.75H237M224,126.25H237" stroke="#000" stroke-width="5" fill="none"/>
<path d="M237.00,1176V1203M421.12,1176V1203M605.25,1176V1203M789.38,1176V1203M973.50,1176V1203M1157.62,1176V1203M1341.75,1176V1203M1525.88,1176V1203M1710.00,1176V1203" stroke="#000" stroke-width="6" fill="none"/>
<path d="M329.06,1176V1190M513.19,1176V1190M697.31,1176V1190M881.44,1176V1190M1065.56,1176V1190M1249.69,1176V1190M1433.81,1176V1190M1617.94,1176V1190" stroke="#000" stroke-width="6" fill="none"/>
<g filter="url(#bin)">
<text x="194.5" y="1150.54" font-size="69.5" text-anchor="end" transform="scale(1,1.04)">0</text>
<text x="194.5" y="1044.29" font-size="69.5" text-anchor="end" transform="scale(1,1.04)">10</text>
<text x="194.5" y="938.04" font-size="69.5" text-anchor="end" transform="scale(1,1.04)">20</text>
<text x="194.5" y="831.79" font-size="69.5" text-anchor="end" transform="scale(1,1.04)">30</text>
<text x="194.5" y="725.54" font-size="69.5" text-anchor="end" transform="scale(1,1.04)">40</text>
<text x="194.5" y="619.29" font-size="69.5" text-anchor="end" transform="scale(1,1.04)">50</text>
<text x="194.5" y="513.04" font-size="69.5" text-anchor="end" transform="scale(1,1.04)">60</text>
<text x="194.5" y="406.79" font-size="69.5" text-anchor="end" transform="scale(1,1.04)">70</text>
<text x="194.5" y="300.54" font-size="69.5" text-anchor="end" transform="scale(1,1.04)">80</text>
<text x="194.5" y="194.29" font-size="69.5" text-anchor="end" transform="scale(1,1.04)">90</text>
<text x="194.5" y="88.04" font-size="69.5" text-anchor="end" transform="scale(1,1.04)">100</text>
<text x="237.50" y="1226.83" font-size="69.5" text-anchor="middle" transform="scale(1,1.04)">0</text>
<text x="421.62" y="1226.83" font-size="69.5" text-anchor="middle" transform="scale(1,1.04)">100</text>
<text x="605.75" y="1226.83" font-size="69.5" text-anchor="middle" transform="scale(1,1.04)">200</text>
<text x="789.88" y="1226.83" font-size="69.5" text-anchor="middle" transform="scale(1,1.04)">300</text>
<text x="974.00" y="1226.83" font-size="69.5" text-anchor="middle" transform="scale(1,1.04)">400</text>
<text x="1158.12" y="1226.83" font-size="69.5" text-anchor="middle" transform="scale(1,1.04)">500</text>
<text x="1342.25" y="1226.83" font-size="69.5" text-anchor="middle" transform="scale(1,1.04)">600</text>
<text x="1526.38" y="1226.83" font-size="69.5" text-anchor="middle" transform="scale(1,1.04)">700</text>
<text x="1710.50" y="1226.83" font-size="69.5" text-anchor="middle" transform="scale(1,1.04)">800</text>
<text x="655.1" y="1353.69" font-size="69.6" transform="scale(1,1.015)">Temperature (<tspan font-size="42" dy="-38.92">O</tspan><tspan dy="38.92">C)</tspan></text>
<text transform="translate(80,877.2) rotate(-90) scale(1.005,1.015)" x="0" y="0" font-size="70">Weight Loss (%)</text>
<text x="1614.7" y="387.59" font-size="70" transform="scale(1,1.015)">(a)</text>
<text x="1617.5" y="500.89" font-size="70" transform="scale(1,1.015)">(b)</text>
<text x="1626.7" y="605.32" font-size="70" transform="scale(1,1.015)">(c)</text>
<text x="1624.6" y="762.07" font-size="70" transform="scale(1,1.015)">(d)</text>
</g>
</svg></body></html>
